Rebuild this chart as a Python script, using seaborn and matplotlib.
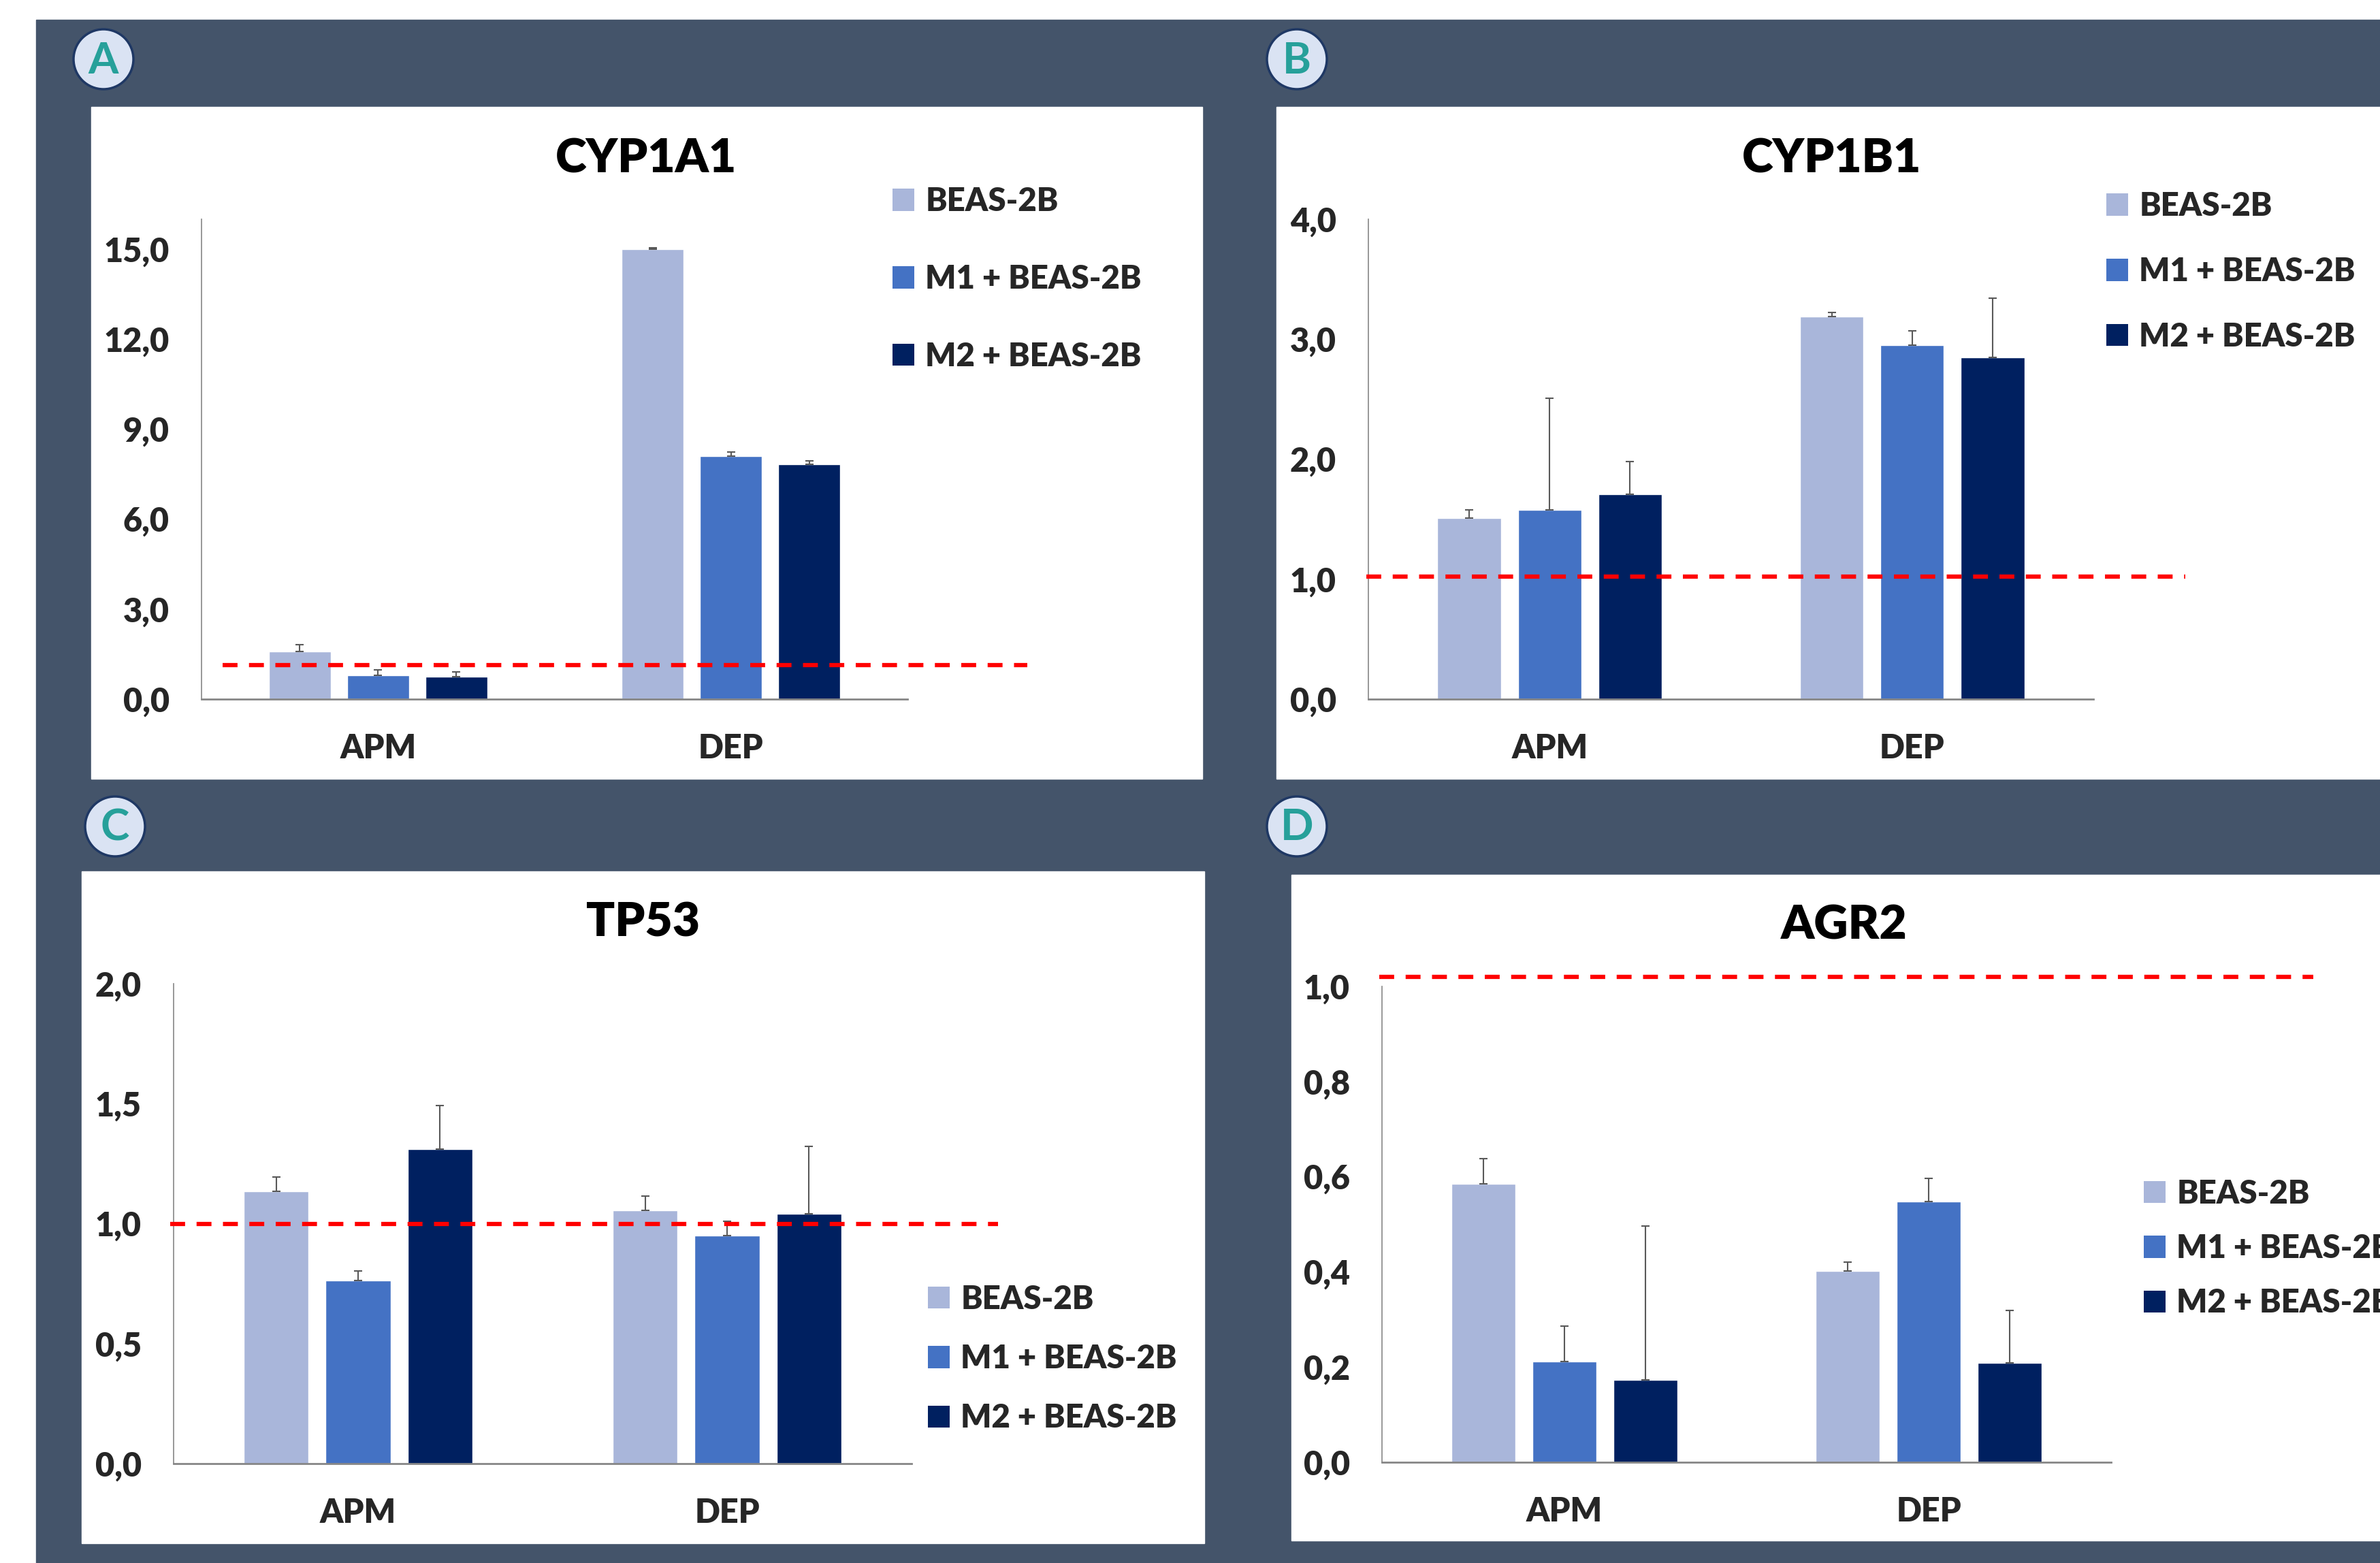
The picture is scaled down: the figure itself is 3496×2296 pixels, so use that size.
import pandas as pd
import matplotlib.pyplot as plt
import seaborn as sns
from matplotlib.patches import Rectangle, Circle, Patch

# data (relative expression, mean and upper SD)
categories = ["APM", "DEP"]
groups = ["BEAS-2B", "M1 + BEAS-2B", "M2 + BEAS-2B"]
colors = ["#A9B6DA", "#4472C4", "#002060"]

cyp1a1_apm = [1.59, 0.80, 0.75]
cyp1a1_dep = [15.0, 8.11, 7.83]
cyp1a1_apm_sd = [0.23, 0.18, 0.16]
cyp1a1_dep_sd = [0.04, 0.12, 0.12]

cyp1b1_apm = [1.51, 1.58, 1.71]
cyp1b1_dep = [3.19, 2.95, 2.85]
cyp1b1_apm_sd = [0.07, 0.93, 0.27]
cyp1b1_dep_sd = [0.03, 0.12, 0.49]

tp53_apm = [1.135, 0.763, 1.311]
tp53_dep = [1.054, 0.95, 1.041]
tp53_apm_sd = [0.06, 0.04, 0.18]
tp53_dep_sd = [0.06, 0.06, 0.28]

agr2_apm = [0.585, 0.212, 0.173]
agr2_dep = [0.402, 0.548, 0.209]
agr2_apm_sd = [0.053, 0.074, 0.324]
agr2_dep_sd = [0.019, 0.048, 0.11]

titles = ["CYP1A1", "CYP1B1", "TP53", "AGR2"]
panel_letters = ["A", "B", "C", "D"]
ref_lines = [1.14, 1.02, 1.0, 1.02]
y_max = [16, 4, 2, 1]
y_ticks = [[0, 3, 6, 9, 12, 15], [0, 1, 2, 3, 4], [0, 0.5, 1, 1.5, 2], [0, 0.2, 0.4, 0.6, 0.8, 1]]

W, H = 3496, 2296
BG = "#44546A"
WEIGHT = "heavy"

sns.set_style("white")
plt.rcParams['font.family'] = ['Lato', 'DejaVu Sans']
plt.rcParams['font.weight'] = WEIGHT

fig = plt.figure(figsize=(W / 100, H / 100), dpi=100)
fig.patch.set_facecolor("white")

# background layer in pixel coordinates
bg = fig.add_axes([0, 0, 1, 1])
bg.set_xlim(0, W)
bg.set_ylim(H, 0)
bg.axis("off")
bg.set_zorder(-1)
bg.add_patch(Rectangle((53, 29), W - 53, H - 29, color=BG))

# layout per panel: white box, axes box, title pos, circle pos, legend pos, red line x-span
panels = [
    dict(box=(134, 157, 1766, 1144), ax=(296, 322, 1333, 1027), title=(949, 234),
         circ=(152, 87), leg=(1311, 410), leg_space=1.48, line=(0.03, 1.17)),
    dict(box=(1875, 157, 3496, 1144), ax=(2010, 322, 3075, 1027), title=(2691, 234),
         circ=(1905, 87), leg=(3094, 399), leg_space=1.1, line=(-0.003, 1.127)),
    dict(box=(120, 1280, 1769, 2267), ax=(255, 1445, 1339, 2150), title=(945, 1356),
         circ=(169, 1214), leg=(1363, 1996), leg_space=0.92, line=(-0.005, 1.117)),
    dict(box=(1897, 1285, 3496, 2263), ax=(2030, 1449, 3101, 2148), title=(2709, 1360),
         circ=(1905, 1214), leg=(3149, 1834), leg_space=0.77, line=(-0.004, 1.277)),
]

means = [(cyp1a1_apm, cyp1a1_dep), (cyp1b1_apm, cyp1b1_dep),
         (tp53_apm, tp53_dep), (agr2_apm, agr2_dep)]
sds = [(cyp1a1_apm_sd, cyp1a1_dep_sd), (cyp1b1_apm_sd, cyp1b1_dep_sd),
       (tp53_apm_sd, tp53_dep_sd), (agr2_apm_sd, agr2_dep_sd)]

for i, p in enumerate(panels):
    x0, y0, x1, y1 = p["box"]
    bg.add_patch(Rectangle((x0, y0), x1 - x0, y1 - y0, color="white"))
    cx, cy = p["circ"]
    bg.add_patch(Circle((cx, cy), 44, facecolor="#DAE3F3", edgecolor="#1F3864", lw=2.5))
    bg.text(cx, cy + 2, panel_letters[i], ha="center", va="center", fontsize=46,
            color="#26A09A", fontweight="bold")
    bg.text(p["title"][0], p["title"][1], titles[i], ha="center", va="center",
            fontsize=50, fontweight=WEIGHT, color="black")

    rows = []
    for c, vals, errs in zip(categories, means[i], sds[i]):
        for g, v, e in zip(groups, vals, errs):
            rows.append({"cat": c, "group": g, "value": v, "sd": e})
    df = pd.DataFrame(rows)

    ax_l, ax_t, ax_r, ax_b = p["ax"]
    ax = fig.add_axes([ax_l / W, 1 - ax_b / H, (ax_r - ax_l) / W, (ax_b - ax_t) / H])
    ax.set_facecolor("none")
    sns.barplot(data=df, x="cat", y="value", hue="group", order=categories,
                hue_order=groups, palette=colors, width=0.666, gap=0.21,
                errorbar=None, legend=False, saturation=1, ax=ax)

    # one-sided error bars on top of each bar
    bar_groups = list(ax.containers)
    for gi, cont in enumerate(bar_groups):
        for ci, bar in enumerate(cont):
            xc = bar.get_x() + bar.get_width() / 2
            sub = df[(df["cat"] == categories[ci]) & (df["group"] == groups[gi])]
            ax.errorbar(xc, sub["value"].iloc[0], yerr=[[0], [sub["sd"].iloc[0]]],
                        fmt="none", ecolor="#595959", elinewidth=1.5, capsize=4,
                        capthick=1.5, zorder=3)

    ax.axhline(ref_lines[i], xmin=p["line"][0], xmax=p["line"][1], color="#FF0000",
               lw=4.5, dashes=(3.5, 2.7), clip_on=False, zorder=4)

    ax.set_xlim(-0.5, len(categories) - 0.5)
    ax.set_ylim(0, y_max[i])
    ax.set_yticks(y_ticks[i])
    ax.set_yticklabels([f"{t:.1f}".replace(".", ",") for t in y_ticks[i]],
                       fontsize=35, fontweight=WEIGHT)
    ax.set_xticks(range(len(categories)))
    ax.set_xticklabels(categories, fontsize=35, fontweight=WEIGHT)
    ax.tick_params(axis="y", length=0, pad=34)
    ax.tick_params(axis="x", length=0, pad=36)
    ax.set_xlabel("")
    ax.set_ylabel("")
    for s in ["top", "right"]:
        ax.spines[s].set_visible(False)
    ax.spines["left"].set_color("#868686")
    ax.spines["left"].set_linewidth(1.2)
    ax.spines["bottom"].set_color("#868686")
    ax.spines["bottom"].set_linewidth(2)

    handles = [Patch(facecolor=col, edgecolor="none") for col in colors]
    lx, ly = p["leg"]
    ax.legend(handles, groups, loc="center left", bbox_to_anchor=(lx / W, 1 - ly / H),
              bbox_transform=fig.transFigure, frameon=False,
              prop={"weight": WEIGHT, "size": 34}, handlelength=0.67, handleheight=0.67,
              handletextpad=0.35, labelspacing=p["leg_space"], borderpad=0,
              borderaxespad=0)

fig.savefig("out.png", dpi=100)
